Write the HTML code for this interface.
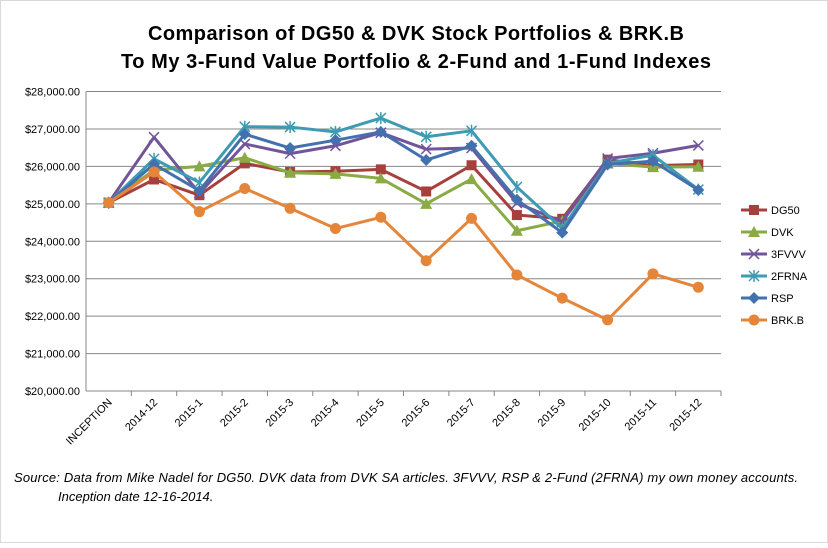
<!DOCTYPE html>
<html><head><meta charset="utf-8"><style>
body{margin:0;background:#fff;width:828px;height:543px;overflow:hidden;font-family:"Liberation Sans",sans-serif}
</style></head><body>
<svg id="c" width="828" height="543" xmlns="http://www.w3.org/2000/svg">
<rect x="0.5" y="0.5" width="827" height="542" fill="#fff" stroke="#d9d9d9"/>
<text x="416" y="40" text-anchor="middle" font-size="20" font-weight="bold" fill="#000" textLength="536">Comparison of DG50 &amp; DVK Stock Portfolios &amp; BRK.B</text>
<text x="416" y="68" text-anchor="middle" font-size="20" font-weight="bold" fill="#000" textLength="590">To My 3-Fund Value Portfolio &amp; 2-Fund and 1-Fund Indexes</text>
<g id="grid"></g><g id="axes"></g><g id="series"></g><g id="legend"></g>
<text x="14" y="482" font-size="13" font-style="italic" textLength="784">Source: Data from Mike Nadel for DG50.  DVK data from DVK SA articles. 3FVVV, RSP &amp; 2-Fund (2FRNA) my own money accounts.</text>
<text x="58" y="501" font-size="13" font-style="italic">Inception date 12-16-2014.</text>
</svg>
<script>
const categories=["INCEPTION","2014-12","2015-1","2015-2","2015-3","2015-4","2015-5","2015-6","2015-7","2015-8","2015-9","2015-10","2015-11","2015-12"];
const yTicks=[20000,21000,22000,23000,24000,25000,26000,27000,28000];
const dg50=[25030,25650,25230,26080,25850,25870,25920,25330,26030,24700,24600,26180,26020,26050];
const dvk=[25030,25900,26000,26230,25830,25800,25680,25000,25660,24280,24540,26080,25980,25990];
const fvvv=[25030,26780,25280,26600,26340,26550,26900,26460,26490,25020,24520,26210,26350,26560];
const frna=[25030,26200,25570,27060,27050,26920,27290,26790,26950,25450,24340,26080,26300,25380];
const rsp=[25030,26060,25350,26860,26490,26700,26920,26170,26550,25110,24230,26050,26140,25370];
const brkb=[25030,25850,24790,25410,24880,24340,24640,23480,24610,23100,22480,21900,23130,22770];
const seriesNames=["DG50","DVK","3FVVV","2FRNA","RSP","BRK.B"];
const seriesData=[dg50,dvk,fvvv,frna,rsp,brkb];
const colors=["#a5403d","#8aaa44","#71559a","#3e9bb3","#4371ad","#e5853a"];
const markers=["square","triangle","x","star","diamond","circle"];
const NS="http://www.w3.org/2000/svg";
const X0=86,X1=721,Y0=391,Y1=91.5,YMIN=20000,YMAX=28000;
const step=(X1-X0)/categories.length;
const xs=i=>X0+step*(i+0.5);
const ys=v=>Y0-(v-YMIN)/(YMAX-YMIN)*(Y0-Y1);
function el(t,a,p){const e=document.createElementNS(NS,t);for(const k in a)e.setAttribute(k,a[k]);p.appendChild(e);return e;}
const grid=document.getElementById('grid'),axes=document.getElementById('axes'),ser=document.getElementById('series'),leg=document.getElementById('legend');
yTicks.forEach(v=>{
 const y=ys(v);
 const l=el('line',{x1:X0,x2:X1,y1:y,y2:y,stroke:'#868686','stroke-width':1},grid);
 
 
 const t=el('text',{x:X0-6,y:y+4,'text-anchor':'end','font-size':11,fill:'#000'},axes);
 t.textContent='$'+v.toLocaleString('en-US')+'.00';
 
 
});
const ax=el('line',{x1:X0,x2:X0,y1:Y1,y2:Y0,stroke:'#868686'},axes);


categories.forEach((c,i)=>{
 const x=xs(i);
 const tk=el('line',{x1:X0+step*(i+1),x2:X0+step*(i+1),y1:Y0,y2:Y0+5,stroke:'#868686'},axes);
 
 
 const t=el('text',{x:x+4,y:Y0+12,'text-anchor':'end','font-size':11,transform:`rotate(-45 ${x+4} ${Y0+12})`},axes);
 t.textContent=c;
 
 
});
function marker(type,x,y,col,g){
 let m;
 if(type==='square')m=el('rect',{x:x-5,y:y-5,width:10,height:10,fill:col},g);
 else if(type==='triangle')m=el('polygon',{points:`${x},${y-6} ${x+6},${y+5} ${x-6},${y+5}`,fill:col},g);
 else if(type==='diamond')m=el('polygon',{points:`${x},${y-6} ${x+6},${y} ${x},${y+6} ${x-6},${y}`,fill:col},g);
 else if(type==='circle')m=el('circle',{cx:x,cy:y,r:5.5,fill:col},g);
 else if(type==='x')m=el('path',{d:`M${x-5},${y-5}L${x+5},${y+5}M${x-5},${y+5}L${x+5},${y-5}`,stroke:col,'stroke-width':1.5},g);
 else m=el('path',{d:`M${x-5},${y-5}L${x+5},${y+5}M${x-5},${y+5}L${x+5},${y-5}M${x},${y-6}L${x},${y+6}`,stroke:col,'stroke-width':1.5},g);
 return m;
}
seriesData.forEach((d,s)=>{
 const g=el('g',{},ser);
 
 
 const p=el('polyline',{points:d.map((v,i)=>xs(i)+','+ys(v)).join(' '),fill:'none',stroke:colors[s],'stroke-width':3,'stroke-linejoin':'round'},g);
 
 
 d.forEach((v,i)=>{
  const m=marker(markers[s],xs(i),ys(v),colors[s],g);
  
  
 });
 const ly=210+s*22;
 const lg=el('g',{},leg);
 
 
 el('line',{x1:741,x2:767,y1:ly,y2:ly,stroke:colors[s],'stroke-width':3},lg);
 marker(markers[s],754,ly,colors[s],lg);
 const t=el('text',{x:771,y:ly+4,'font-size':11},lg);
 t.textContent=seriesNames[s];
});
</script>
</body></html>
